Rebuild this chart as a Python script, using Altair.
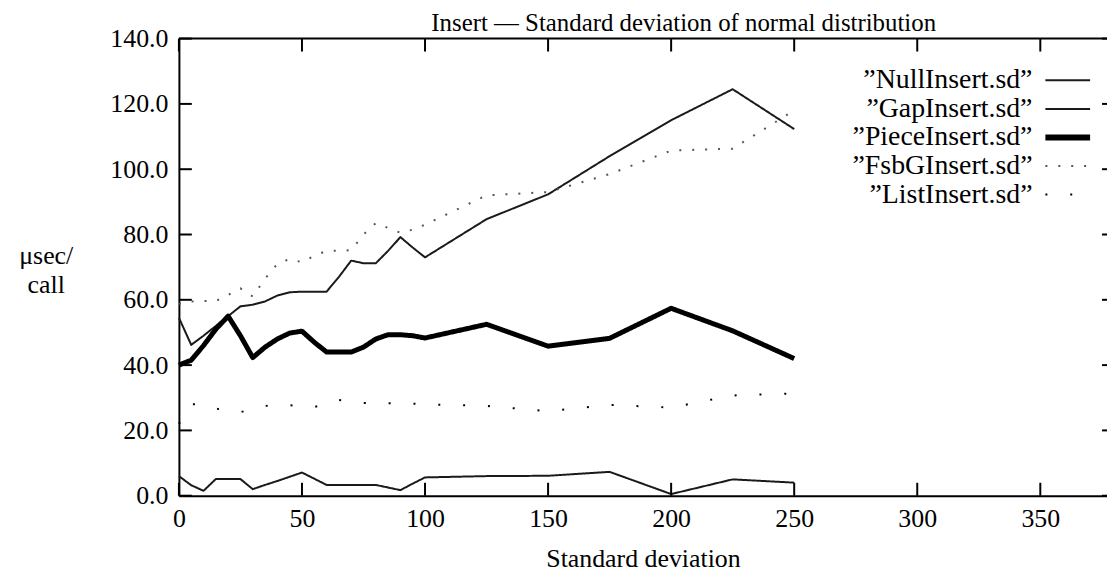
import altair as alt
import pandas as pd

# ---------------- data ----------------
SD = [0, 5, 10, 15, 20, 25, 30, 35, 40, 45, 50, 55, 60, 65, 70, 75, 80, 85, 90, 95,
      100, 125, 150, 175, 200, 225, 250]
NULL_INSERT = [6.0, 3.2, 1.5, 5.1, 5.1, 5.1, 2.0, 3.3, 4.5, 5.8, 7.1, 5.2, 3.3, 3.3, 3.3,
               3.3, 3.3, 2.5, 1.7, 3.7, 5.6, 6.0, 6.1, 7.3, 0.5, 5.0, 4.0]
GAP_INSERT = [54.5, 46.2, 49.0, 52.0, 55.0, 58.0, 58.5, 59.5, 61.3, 62.3, 62.5, 62.5, 62.5,
              67.0, 72.0, 71.2, 71.2, 75.0, 79.2, 76.0, 73.0, 84.7, 92.3, 104.0, 115.0,
              124.5, 112.3]
PIECE_INSERT = [40.0, 41.5, 46.0, 51.0, 55.0, 49.0, 42.3, 45.5, 48.0, 49.8, 50.4, 47.0, 44.0,
                44.0, 44.0, 45.5, 48.0, 49.3, 49.3, 49.0, 48.3, 52.5, 45.8, 48.2, 57.4,
                50.5, 42.0]
FSBG_INSERT = [58.8, 59.5, 59.6, 59.6, 61.5, 63.5, 61.0, 66.5, 71.0, 72.5, 71.5, 73.5, 75.0,
               75.0, 75.2, 80.0, 83.5, 82.0, 80.5, 81.5, 83.0, 92.0, 93.0, 98.5, 105.7,
               106.3, 118.0]
LIST_INSERT = [22.0, 28.0, 28.0, 26.7, 26.0, 25.6, 26.5, 27.5, 27.7, 27.7, 27.5, 27.2, 28.0,
               29.3, 29.0, 28.4, 28.3, 28.3, 28.3, 28.2, 28.0, 27.5, 25.9, 27.8, 27.0,
               30.7, 31.3]

SERIES = ["”NullInsert.sd”", "”GapInsert.sd”", "”PieceInsert.sd”",
          "”FsbGInsert.sd”", "”ListInsert.sd”"]
VALUES = [NULL_INSERT, GAP_INSERT, PIECE_INSERT, FSBG_INSERT, LIST_INSERT]

X_TICKS = [0, 50, 100, 150, 200, 250, 300, 350]
Y_TICKS = [0, 20, 40, 60, 80, 100, 120, 140]

TITLE = "Insert — Standard deviation of normal distribution"
X_TITLE = "Standard deviation"
Y_TITLE = ["μsec/", "call"]

# ---------------- styles ----------------
STROKE_WIDTHS = [2, 2, 5, 2, 2]
STROKE_DASHES = [[1, 0], [1, 0], [1, 0], [2, 11], [2, 23]]
STROKE_COLORS = ["#1a1a1a", "#1a1a1a", "#000000", "#555555", "#000000"]

W, H = 934, 460
FONT = "Liberation Serif, Times New Roman, DejaVu Serif, serif"
TICK = 13

df = pd.DataFrame([
    {"sd": x, "usec": v, "series": name}
    for name, vals in zip(SERIES, VALUES)
    for x, v in zip(SD, vals)
])
legend_df = pd.DataFrame({"series": SERIES})
xt = pd.DataFrame({"sd": X_TICKS})
yt = pd.DataFrame({"usec": Y_TICKS})
one = pd.DataFrame({"k": [0]})

xs = alt.Scale(domain=[0, 377.1], nice=False, zero=False)
ys = alt.Scale(domain=[0, 140], nice=False)

x_axis = alt.Axis(
    values=X_TICKS, format="d", ticks=False, grid=False,
    domain=True, domainColor="black", domainWidth=2,
    labelFont=FONT, labelFontSize=26, labelColor="black", labelPadding=10,
    labelFlush=False, labelOverlap=False,
    title=X_TITLE, titleFont=FONT, titleFontSize=26, titleFontWeight="normal",
    titleColor="black", titleY=63, titleBaseline="middle",
)
y_axis = alt.Axis(
    values=Y_TICKS, format=".1f", ticks=False, grid=False,
    domain=True, domainColor="black", domainWidth=2,
    labelFont=FONT, labelFontSize=26, labelColor="black", labelPadding=11,
    labelOverlap=False,
    title=Y_TITLE, titleFont=FONT, titleFontSize=26, titleFontWeight="normal",
    titleColor="black", titleAngle=0, titleAlign="center", titleBaseline="middle",
    titleX=-134, titleY=218, titleLineHeight=30,
)

X = alt.X("sd:Q", scale=xs, axis=x_axis)
Y = alt.Y("usec:Q", scale=ys, axis=y_axis)

layers = []
for i, name in enumerate(SERIES):
    layers.append(
        alt.Chart(df)
        .transform_filter(alt.FieldEqualPredicate(field="series", equal=name))
        .mark_line(strokeWidth=STROKE_WIDTHS[i], strokeDash=STROKE_DASHES[i],
                   color=STROKE_COLORS[i], strokeCap="butt", strokeJoin="round")
        .encode(x=X, y=Y, order="sd:Q")
    )

# frame top line and inward ticks (positioned through the scales)
frame_top = alt.Chart(one).mark_rule(color="black", strokeWidth=2).encode(
    x=alt.value(0), x2=alt.value(W), y=alt.value(0))
ticks_bottom = alt.Chart(xt).mark_rule(color="black", strokeWidth=2).encode(
    x=X, y=alt.value(H), y2=alt.value(H - TICK))
ticks_top = alt.Chart(xt).mark_rule(color="black", strokeWidth=2).encode(
    x=X, y=alt.value(0), y2=alt.value(TICK))
ticks_left = alt.Chart(yt).mark_rule(color="black", strokeWidth=2).encode(
    y=Y, x=alt.value(0), x2=alt.value(TICK))
ticks_right = alt.Chart(yt).mark_rule(color="black", strokeWidth=2).encode(
    y=Y, x=alt.value(W - 5), x2=alt.value(W))

main = alt.layer(*layers, ticks_bottom, ticks_top, ticks_left, ticks_right, frame_top)

# legend (labels left, line samples right)
leg_scale = alt.Scale(type="point", domain=SERIES, range=[42, 157], padding=0)
leg_text = alt.Chart(legend_df).mark_text(
    align="right", baseline="middle", font=FONT, fontSize=28, color="black"
).encode(y=alt.Y("series:N", scale=leg_scale, axis=None), x=alt.value(859),
         text="series:N")
leg_rules = []
for i, name in enumerate(SERIES):
    leg_rules.append(
        alt.Chart(legend_df)
        .transform_filter(alt.FieldEqualPredicate(field="series", equal=name))
        .mark_rule(strokeWidth=STROKE_WIDTHS[i] + (1 if i == 2 else 0),
                   strokeDash=STROKE_DASHES[i], color=STROKE_COLORS[i], strokeCap="butt")
        .encode(y=alt.Y("series:N", scale=leg_scale, axis=None),
                x=alt.value(872), x2=alt.value(917))
    )
legend = alt.layer(leg_text, *leg_rules)

chart = (
    alt.layer(main, legend)
    .resolve_scale(y="independent")
    .properties(
        width=W, height=H,
        title=alt.TitleParams(TITLE, font=FONT, fontSize=25, fontWeight="normal",
                              color="black", anchor="middle", dx=41, offset=0, dy=10),
        autosize=alt.AutoSizeParams(type="none"),
        padding={"left": 172, "top": 29, "right": 0, "bottom": 78},
        background="white",
    )
    .configure(font=FONT)
    .configure_axis(labelFont=FONT, titleFont=FONT)
    .configure_text(font=FONT)
    .configure_title(font=FONT)
    .configure_view(stroke=None)
)

chart.save("out.html", embed_options={"renderer": "svg", "actions": False})
